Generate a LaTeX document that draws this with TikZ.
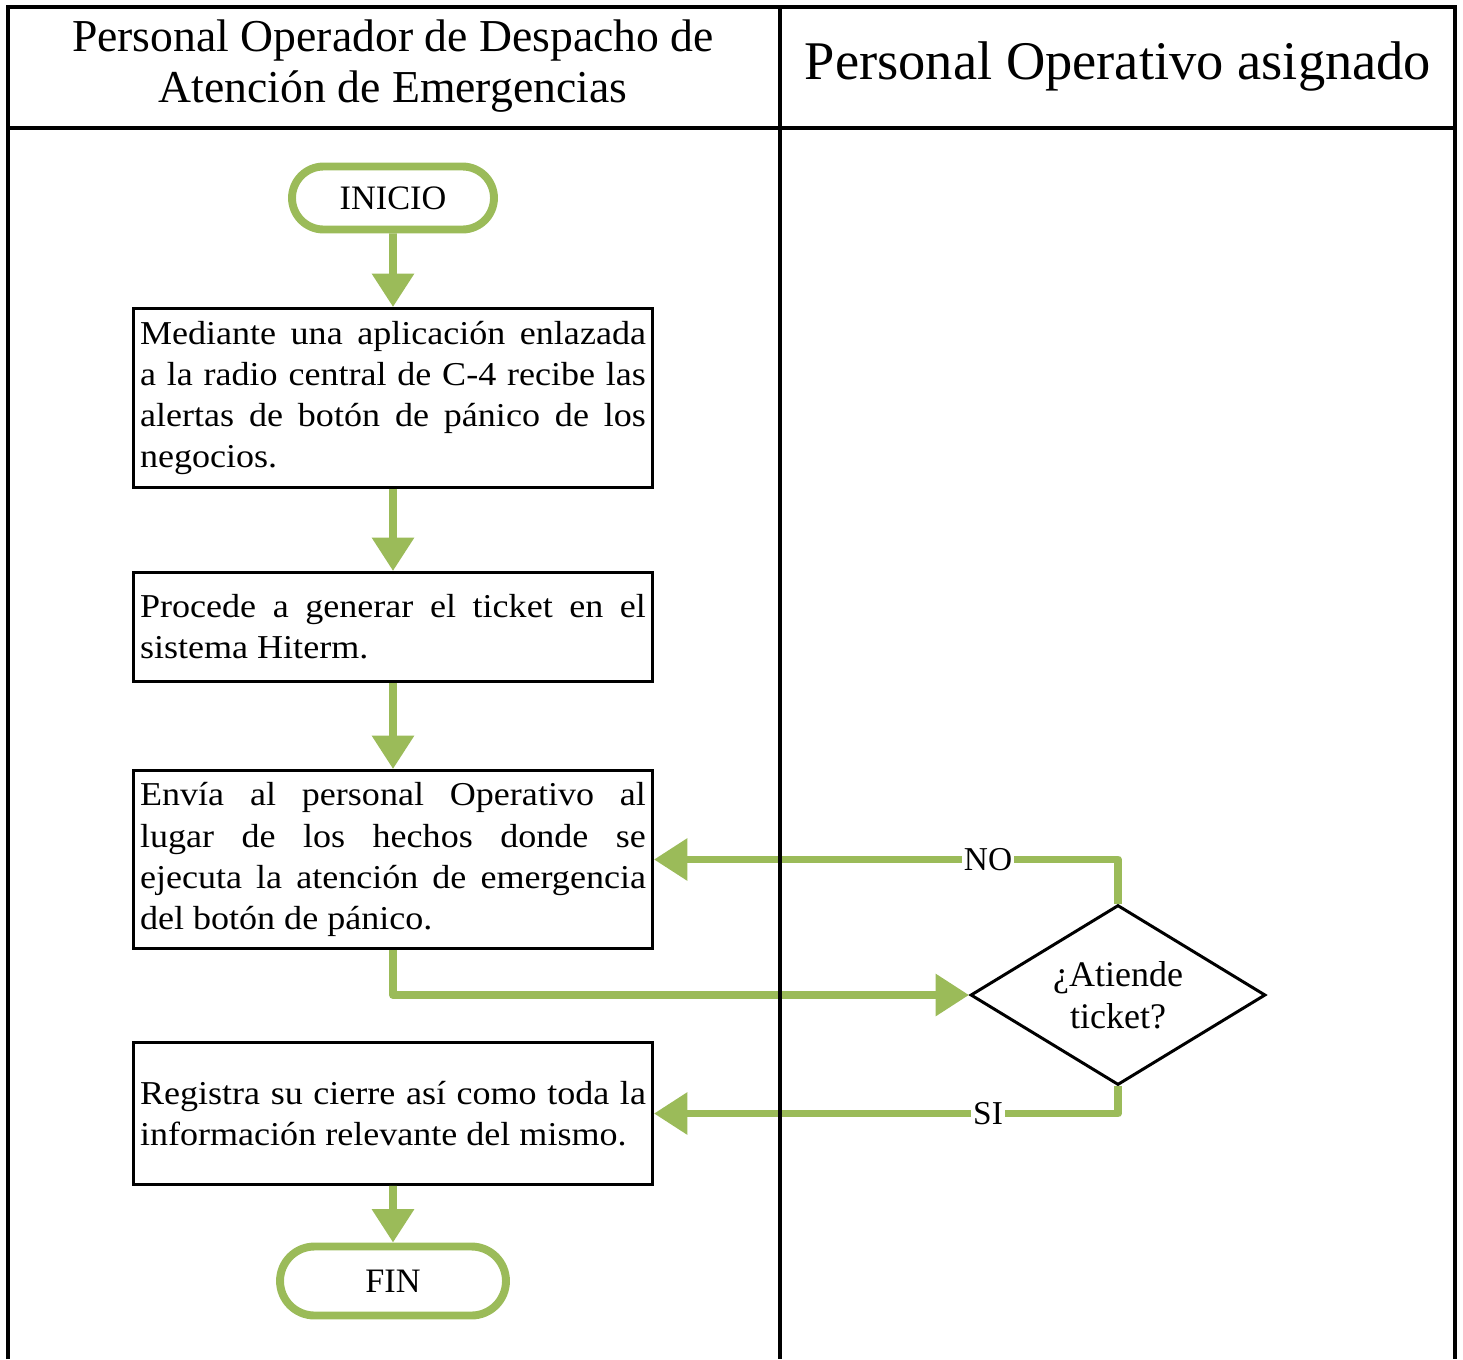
\documentclass[tikz,border=0pt]{standalone}
\usepackage{fontspec}
\setmainfont{Liberation Serif}
\newfontfamily\widefam{Liberation Serif}[FakeStretch=1.08]
\usetikzlibrary{arrows.meta,shapes.geometric,shapes.misc}
\definecolor{flowgreen}{RGB}{155,187,89}
\newcommand{\bodyfont}{\widefam\fontsize{19}{23.4}\selectfont}
\tikzset{
  lane/.style    ={line width=2.3pt, black},
  lanehead/.style={align=center, inner sep=0pt},
  terminal/.style={rounded rectangle, draw=flowgreen, line width=4.5pt, fill=white,
                   inner sep=0pt, font=\fontsize{19.5}{24}\selectfont},
  process/.style ={rectangle, draw=black, line width=1.7pt, fill=white,
                   text width=10.12cm, inner xsep=0.13cm, inner ysep=0pt,
                   align=justify, font=\bodyfont},
  decision/.style={diamond, draw=black, line width=1.7pt, fill=white, aspect=1.64,
                   minimum width=5.9cm, minimum height=3.6cm, inner sep=0pt,
                   align=center, font=\fontsize{20.5}{24}\selectfont},
  flow/.style    ={-{Triangle[length=19pt,width=23pt]}, line width=4.5pt,
                   flowgreen, line join=round},
  answer/.style  ={fill=white, inner sep=1pt, text=black, font=\fontsize{19}{23.4}\selectfont},
}
\begin{document}
\begin{tikzpicture}[x=0.02cm, y=-0.02cm]
  \useasboundingbox (0,0) rectangle (1463,1359);
  % lane titles
  \node[lanehead, font=\fontsize{26}{29.5}\selectfont] (lanea) at (393,66)
    {Personal Operador de Despacho de\\Atención de Emergencias};
  \node[lanehead, font=\fontsize{31}{36}\selectfont] (laneb) at (1118,66)
    {Personal Operativo asignado};
  % steps
  \node[terminal, minimum width=4.04cm, minimum height=1.26cm] (inicio) at (393,198) {INICIO};
  \node[process, minimum height=3.58cm] (recibe) at (393,398)
    {Mediante una aplicación enlazada\linebreak
     a la radio central de C-4 recibe las\linebreak
     alertas de botón de pánico de los\linebreak
     negocios.};
  \node[process, minimum height=2.18cm] (ticket) at (393,627)
    {Procede a generar el ticket en el\linebreak
     sistema Hiterm.};
  \node[process, minimum height=3.56cm] (envia) at (393,859.5)
    {Envía al personal Operativo al\linebreak
     lugar de los hechos donde se\linebreak
     ejecuta la atención de emergencia\linebreak
     del botón de pánico.};
  \node[decision] (atiende) at (1118,995) {¿Atiende\\ticket?};
  \node[process, minimum height=2.84cm] (registra) at (393,1113.5)
    {Registra su cierre así como toda la\linebreak
     información relevante del mismo.};
  \node[terminal, minimum width=4.52cm, minimum height=1.38cm] (fin) at (393,1281) {FIN};
  % connectors
  \draw[flow] (inicio) -- (recibe);
  \draw[flow] (recibe) -- (ticket);
  \draw[flow] (ticket) -- (envia);
  \draw[flow] (envia.south) |- (atiende.west);
  \draw[flow] (atiende.north) |- node[answer, pos=0.64] {NO} (envia.east);
  \draw[flow] (atiende.south) |- node[answer, pos=0.64] {SI} (registra.east);
  \draw[flow] (registra) -- (fin);
  % swimlane frame
  \draw[lane] (8,1359) -- (8,7) -- (1455,7) -- (1455,1359);
  \draw[lane] (8,128) -- (1455,128);
  \draw[lane] (780,7) -- (780,1359);
\end{tikzpicture}
\end{document}
